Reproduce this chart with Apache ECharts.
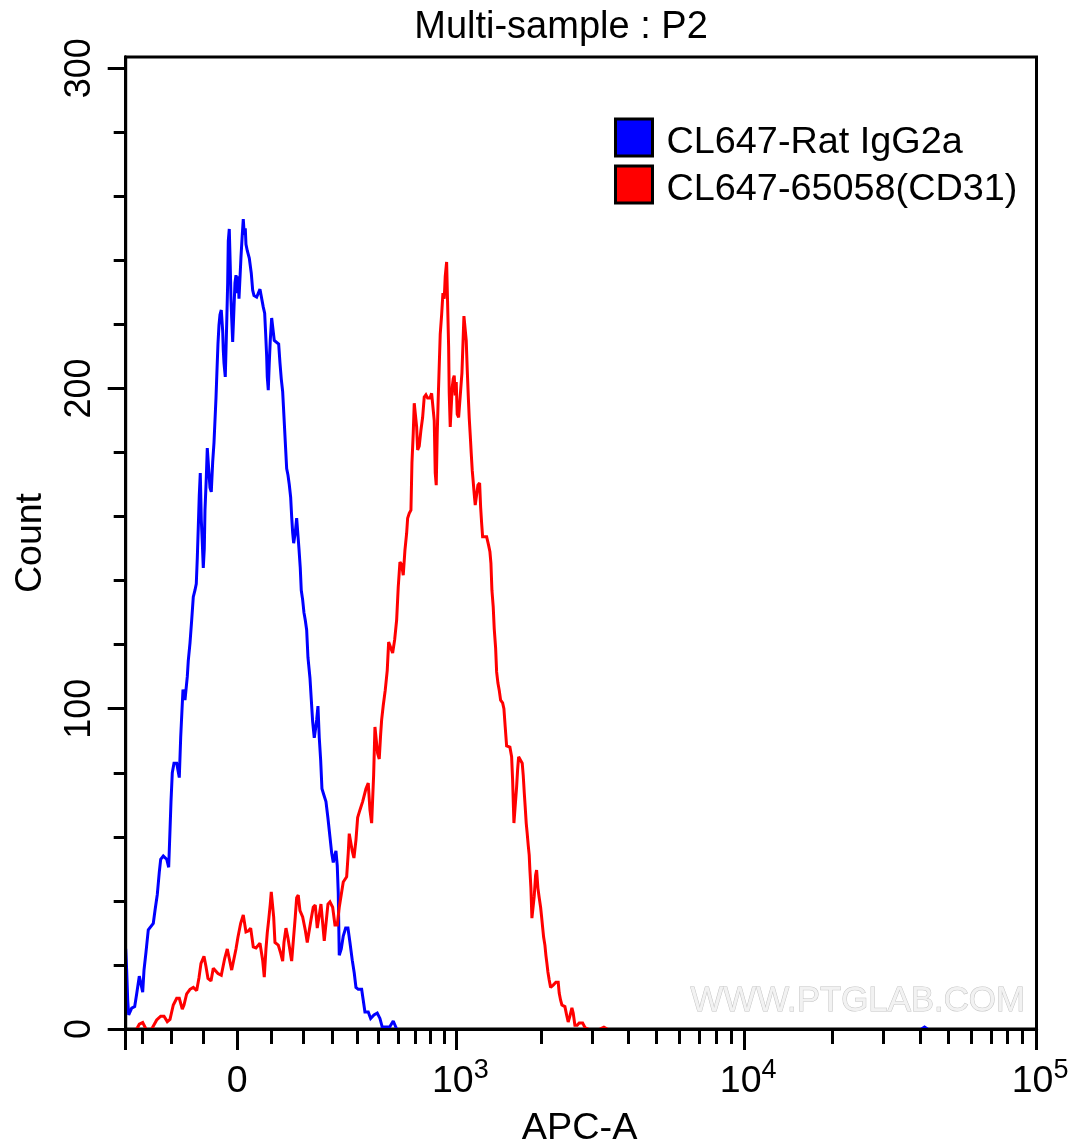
<!DOCTYPE html>
<html>
<head>
<meta charset="utf-8">
<title>Multi-sample : P2</title>
<script src="https://cdn.jsdelivr.net/npm/echarts@6/dist/echarts.min.js"></script>
<style>
  html, body { margin: 0; background: #fff; }
  #chart { width: 1084px; height: 1146px; }
</style>
</head>
<body>
<div id="chart"></div>
<script>
// 直方图道号：沿显示轴 0–911，数值为 Count；null 处为基线上的空段。
const blueChannels = [0,1,2,3,4,6,9,11,13.6,15,17,18.3,20.3,22.6,27.6,29.3,31.6,33.6,35,37.6,41,43,44.3,45.3,46.6,48.3,51,53.6,55,56.3,57.3,59.3,61,61.6,62.6,64.3,66,67.6,69.3,70.6,71.6,72.6,73.6,74.6,75.6,76.6,77.6,78.6,79.3,80.6,81.6,83,84.3,85.6,87,88.3,89.3,90.3,91.3,92.3,93.3,94.3,95.6,97,97.6,98.3,99.6,101,102,102.6,103.6,104.6,105.3,106,107,108.3,109.3,110.3,111.6,112.6,113.3,114.3,115.3,116.6,117.6,118.6,119.6,120.3,121.6,123.6,125.6,127,128.3,131,133,134.3,136.3,137.6,139,140,141,141.6,142.6,143.6,144.6,146,147.3,148.6,150.3,153,154.3,155.6,157,158,159,160,161,162.3,163.6,165,166,167,168,169.6,171,172.3,173.3,174.6,175.6,177,178.3,179.6,181,182.3,184.3,185.6,187,188.6,190,191,192.3,193.6,195,196.3,198.3,200.3,202.3,204.3,206,207.6,209,210.3,211.6,212.6,213.6,215.6,217.6,220,222.3,224.3,226.6,228.6,230.3,232.6,236,237.6,239.3,242.6,245,248.3,251.6,254.3,256.6,259,264,267.6,271,500,796,799,802];
const blueCounts = [25,18,9,4.4,5,6.5,7,11,16.5,16,11.5,18.4,24,31,33,37,42,49,53,54,53,50.5,62,71,80,83,83,78.5,91,99.6,106,102.7,103,110,115,120.5,127.7,134.9,137,139,147,156.7,166.7,173.6,159,152,144,150,162,172,181.4,181.4,169,167.7,177,183,190,197,205.7,214,219.8,223,224.5,218,212,208,203.6,220,233,246,249.8,238,228,222,214.5,215,233,235.4,229.8,235,228,228,241,248,252.9,248,250,245,243,240.7,236,230.7,229,228.5,229,231,231,225.4,223.5,217,210,203.6,199.5,208,215,222,222,215,214.5,213.9,208,203,199,193,187,181,175,173,170,166,160,155,151.7,155,159.5,159.5,150,144,137,134,130,127.7,124.6,116,109.6,103,96,90.9,94,96.5,100.8,91,84,75,73,71,65.8,60,55,52,54,55.6,51,42.4,23,25,29,31.5,31.5,27,21.5,17.5,13,12.4,12.4,9,5.3,5.3,3.3,4.4,5,3.3,0.6,0.6,0.6,2.5,0,null,0,0.6,0];

const redChannels = [11,13.6,17,20.3,23,26,31,35,38.3,41.6,44.3,47.6,51,53.6,56.6,58.3,61,64.3,67.6,71,73.3,75.3,78.3,80.3,82.3,85.3,87.6,89.6,92.3,95.6,99,101.6,103.6,106,107.6,110.3,112.3,115,117.6,120.3,122.6,125,127.6,130.3,134.3,137,138.6,140.3,141.6,143,144.6,145.6,147,148,149.3,152.6,155,157,158.3,160.3,162.3,164.3,166,168,169.6,171,172.6,174.3,177,179.6,181.6,183,185.3,187.6,189.6,191.6,193.6,195.3,197,198.6,200.3,202.3,204.3,207,209.3,211.6,213.6,215.3,217.6,221,222.6,223.6,225.3,226.6,228.3,230.3,232,234.3,237,240.3,242.6,244.3,246,247,248,249.3,250.6,252,253.6,255,256,257.6,259.6,261.6,263,265,267,269,271,272.6,274.3,276,277.6,279.3,281,282,283.6,285.3,286.3,287.6,288.6,290,291,292,293.6,295.3,297,298.6,300.3,302,304.3,306,307.6,308.6,309.6,310.6,311.6,312.6,313.6,314.6,316,317.3,318.6,319.6,321,322.3,323,323.6,324.6,325.6,326.6,327.6,328.6,329.6,330.6,331.6,333,335,336.3,337.3,338.3,339.6,340.6,341.6,342.6,343.6,344.6,345.6,346.6,347.6,348.6,349.6,351,352.3,354,355,356,357,359,361,363,364.3,365.3,366.3,367.6,368.6,370,371,372.3,373.6,375,377,378.3,379.6,381,384.3,386,387,388.3,390,391,392,393,395,396.6,397.6,398.6,399.6,400.6,401.6,402.6,403.6,404.3,405.3,406.3,407.6,408.6,410,411,412.3,413.6,415,416,417,418,419.3,420.3,421.3,422.3,423.6,425,427.6,430.3,432.6,433.6,435,436.3,439.3,441,442.6,444.3,446.3,447.6,449.3,451.6,453.6,457,459.6,462.6,470,474.3,478.3,481.6];
const redCounts = [0,1.5,2,0,null,0,2.8,4,4,2.3,3,7.5,9.6,9.6,6.2,7.5,11,12.4,13,12,16,20.5,22.7,19.5,15.8,15,19,19.6,17.3,16.8,22,25,25.6,18.4,18,25,28.7,33,35.6,30.3,30.6,31.5,25.6,25.3,26.8,21.5,16.2,25,30,34,39,42.8,42.8,35,27,26.2,23.7,21.2,27,31.5,28.4,24.5,21.2,21.2,35,41,41.8,37,35,30.9,27,27,34,38,38.7,31.5,32,39,39.3,27.5,27,39,39.7,38,32.5,32.5,38,41.4,45.9,47.5,55,61,60.5,55.6,53.4,59,66,68.4,71,75,76.8,68.4,64.3,64.3,79.3,94.3,94.3,86,84.3,92,96.5,101,105.8,112,120.8,120.8,117.4,121.5,127.7,138,145.8,145,141.7,149.5,154.8,159.5,161,162,176.7,186,195.4,195.4,188,180.8,182,187,191,197.3,198,197,197,198.5,198.5,190,173.6,169.8,186,197,207,217,223,229.8,228,235,239.5,239.5,213,198.6,188,188,200.4,203,204,197.8,202,192,191,191,204.8,213.6,222.6,222.6,215,206,198,190.8,185.5,179.8,174.5,170.8,167,163.6,163.6,169.8,170.5,163,158,153.7,154,153.7,151,149,145.5,137,131.8,125,119,111.5,108,105.8,102.7,101.8,100,94.3,88.4,88,85,77.7,64.3,64.3,75.6,81,85,84.6,83,79.3,74,69.3,64.3,61,57.4,54.3,49.6,44,34.6,34.6,41.4,48,49.6,44,41,38,35,31.8,28.7,26.2,23,20.5,17.8,15.3,13,13.7,14.6,14.6,11.2,9,7.5,7,4.4,2.2,4,6.6,5,1.2,1.2,1.9,1.9,0.3,0,null,0,0.6,0];

const seriesNames = ["CL647-Rat IgG2a", "CL647-65058(CD31)"];

// 刻度：APC-A 原始值，经 biexp 换算到道号。
const xEdgeApc = -366;
const xMajorApc = [xEdgeApc, 0, 1000, 10000, 100000];
const xMajorLabels = ["", "{z|0}", "{b|10}{s|3}", "{b|10}{s|4}", "{b|10}{s|5}"];
const xMinorApc = [-300,-200,-100,100,200,300,400,500,600,700,800,900,2000,3000,4000,5000,6000,7000,8000,9000,20000,30000,40000,50000,60000,70000,80000,90000];
const yMajor = [0, 100, 200, 300];
const yMinor = [20,40,60,80,120,140,160,180,220,240,260,280];

const FONT = "Liberation Sans";
const CHANNEL_MAX = 911;
const COUNT_MAX = 303.5;

function apcToChannel(v) {
  return 126.8 * Math.asinh(v / 367) + 111.6;
}
function pairs(xs, ys) {
  return xs.map((x, i) => [x, ys[i]]);
}
function histSeries(name, color, xs, ys) {
  return {
    name,
    type: "line",
    xAxisIndex: 0,
    yAxisIndex: 0,
    showSymbol: false,
    symbol: "none",
    sampling: false,
    lineStyle: { width: 3, color, join: "miter", miterLimit: 2 },
    itemStyle: { color },
    data: pairs(xs, ys),
  };
}

const xMajorCh = xMajorApc.map(apcToChannel).map((v, i) => (i === 0 ? 0 : v));
const xMinorCh = xMinorApc.map(apcToChannel);
const line3 = { show: true, lineStyle: { color: "#000", width: 3 } };

const option = {
  backgroundColor: "#fff",
  animation: false,
  title: {
    text: "Multi-sample : P2",
    left: 556,
    top: 4,
    textAlign: "center",
    textStyle: { fontFamily: FONT, fontSize: 38, fontWeight: "normal", color: "#000" },
  },
  legend: {
    orient: "vertical",
    left: 614,
    top: 113,
    data: seriesNames,
    icon: "rect",
    itemWidth: 37,
    itemHeight: 37,
    itemGap: -2,
    padding: 0,
    selectedMode: false,
    itemStyle: { borderColor: "#000", borderWidth: 3 },
    formatter: (name) => `{t|${name}}`,
    textStyle: {
      rich: {
        t: { fontFamily: FONT, fontSize: 37.8, color: "#000", lineHeight: 20, padding: [11, 0, 0, 9] },
      },
    },
  },
  grid: {
    left: 125.7,
    right: 47.5,
    top: 57,
    bottom: 117,
    outerBoundsMode: "none",
    show: true,
    backgroundColor: "#fff",
    borderColor: "#000",
    borderWidth: 3,
  },
  xAxis: [
    {
      type: "value",
      position: "bottom",
      min: 0,
      max: CHANNEL_MAX,
      z: 5,
      axisLine: line3,
      splitLine: { show: false },
      axisTick: { show: true, length: 15, lineStyle: { color: "#000", width: 3 }, customValues: xMinorCh },
      axisLabel: { show: false },
      name: "APC-A",
      nameLocation: "middle",
      nameGap: 81,
      nameTextStyle: { fontFamily: FONT, fontSize: 37.8, color: "#000", padding: [0, 3, 0, 0] },
    },
    {
      type: "value",
      position: "bottom",
      min: 0,
      max: CHANNEL_MAX,
      z: 5,
      axisLine: line3,
      splitLine: { show: false },
      axisTick: { show: true, length: 21, lineStyle: { color: "#000", width: 3 }, customValues: xMajorCh },
      axisLabel: {
        show: true,
        customValues: xMajorCh,
        showMinLabel: true,
        showMaxLabel: true,
        hideOverlap: false,
        margin: 28,
        formatter: (v) => {
          const i = xMajorCh.findIndex((c) => Math.abs(c - v) < 1e-6);
          return xMajorLabels[i] || "";
        },
        rich: {
          z: { fontFamily: FONT, fontSize: 37.5, color: "#000", lineHeight: 44, verticalAlign: "bottom" },
          b: { fontFamily: FONT, fontSize: 37.5, color: "#000", lineHeight: 44, verticalAlign: "bottom", padding: [0, 0, 0, 8] },
          s: { fontFamily: FONT, fontSize: 27, color: "#000", lineHeight: 28, verticalAlign: "top" },
        },
      },
    },
  ],
  yAxis: [
    {
      type: "value",
      position: "left",
      min: 0,
      max: COUNT_MAX,
      z: 5,
      axisLine: line3,
      splitLine: { show: false },
      axisTick: { show: true, length: 12, lineStyle: { color: "#000", width: 3 }, customValues: yMinor },
      axisLabel: { show: false },
      name: "Count",
      nameLocation: "middle",
      nameGap: 76,
      nameRotate: 90,
      nameTextStyle: { fontFamily: FONT, fontSize: 37.5, color: "#000" },
    },
    {
      type: "value",
      position: "left",
      min: 0,
      max: COUNT_MAX,
      z: 5,
      axisLine: line3,
      splitLine: { show: false },
      axisTick: { show: true, length: 18, lineStyle: { color: "#000", width: 3 }, customValues: yMajor },
      axisLabel: {
        show: true,
        customValues: yMajor,
        rotate: 90,
        margin: 28,
        fontFamily: FONT,
        fontSize: 36,
        color: "#000",
      },
    },
  ],
  series: [
    histSeries(seriesNames[0], "#0000ff", blueChannels, blueCounts),
    histSeries(seriesNames[1], "#ff0000", redChannels, redCounts),
  ],
  graphic: [
    {
      type: "text",
      left: 690,
      top: 983,
      z: 1,
      silent: true,
      style: {
        text: "WWW.PTGLAB.COM",
        fontFamily: FONT,
        fontSize: 34.8,
        fill: "#f2f2f2",
        stroke: "#c4c4c4",
        lineWidth: 1,
        shadowColor: "#999",
        shadowBlur: 2,
        shadowOffsetX: 1.5,
        shadowOffsetY: 1.5,
      },
    },
  ],
};

const chart = echarts.init(document.getElementById("chart"));
chart.setOption(option);
</script>
</body>
</html>
